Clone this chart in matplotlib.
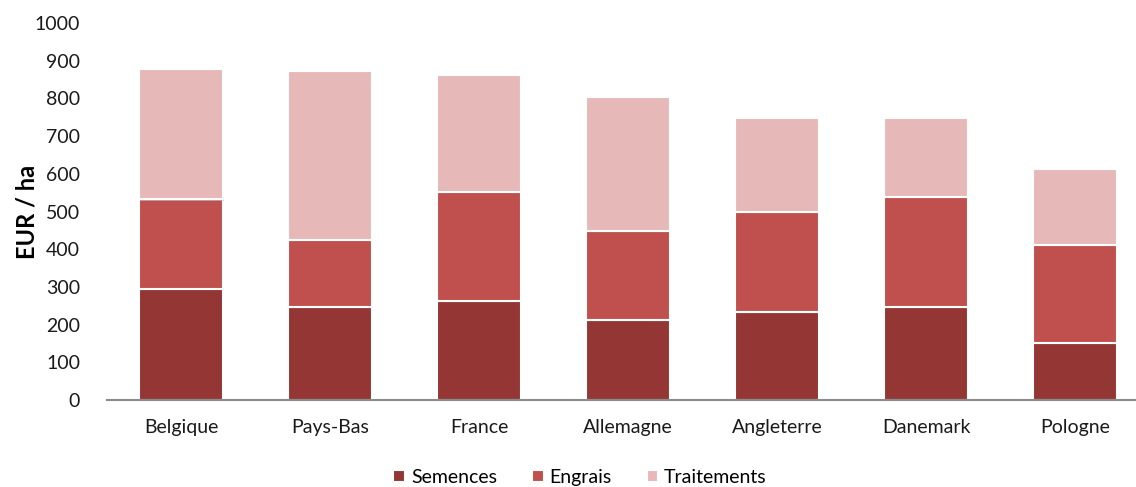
import numpy as np
import matplotlib
matplotlib.use("Agg")
import matplotlib.pyplot as plt
import matplotlib.patheffects as pe

pays = ["Belgique", "Pays-Bas", "France", "Allemagne", "Angleterre", "Danemark", "Pologne"]
semences = [294, 247, 263, 212, 233, 247, 152]
engrais = [238, 177, 289, 237, 266, 292, 260]
traitements = [346, 449, 309, 354, 248, 208, 201]

series = [
    ("Semences", semences, "#943634"),
    ("Engrais", engrais, "#C0504D"),
    ("Traitements", traitements, "#E6B9B8"),
]

plt.rcParams["font.family"] = ["Lato", "DejaVu Sans"]

fig = plt.figure(figsize=(11.36, 4.87), dpi=100)
ax = fig.add_axes([0.0938, 0.1786, 0.9062, 0.7742])

x = np.arange(len(pays))
bottom = np.zeros(len(pays))
shadow = [pe.SimplePatchShadow(offset=(0.8, -0.8), shadow_rgbFace="0.75", alpha=0.6), pe.Normal()]
for name, vals, col in series:
    bars = ax.bar(x, vals, 0.56, bottom=bottom, color=col, edgecolor="white",
                  linewidth=1.5, label=name)
    for b in bars:
        b.set_path_effects(shadow)
    bottom += np.array(vals)

ax.set_ylim(0, 1000)
ax.set_yticks(range(0, 1001, 100))
ax.set_xlim(-0.5, -0.5 + (1136 - 106.5) / 149)
ax.set_xticks(x)
ax.set_xticklabels(pays)
ax.tick_params(axis="both", length=0, labelsize=14, labelcolor="#1a1a1a")
ax.tick_params(axis="x", pad=14)
ax.tick_params(axis="y", pad=19)
for s in ["top", "right", "left"]:
    ax.spines[s].set_visible(False)
ax.spines["bottom"].set_color("#8c8c8c")
ax.spines["bottom"].set_linewidth(1.5)

# y-axis title placed by hand, left of the tick labels
fig.text(0.024, 0.565, "EUR / ha", rotation=90, ha="center", va="center",
         fontsize=17, fontweight="bold")

ax.legend(loc="center", bbox_to_anchor=(0.46, -0.205), ncol=3, frameon=False,
          fontsize=14, handlelength=0.6, handleheight=0.6, handletextpad=0.3,
          columnspacing=1.8)

fig.savefig("out.png", dpi=100)
